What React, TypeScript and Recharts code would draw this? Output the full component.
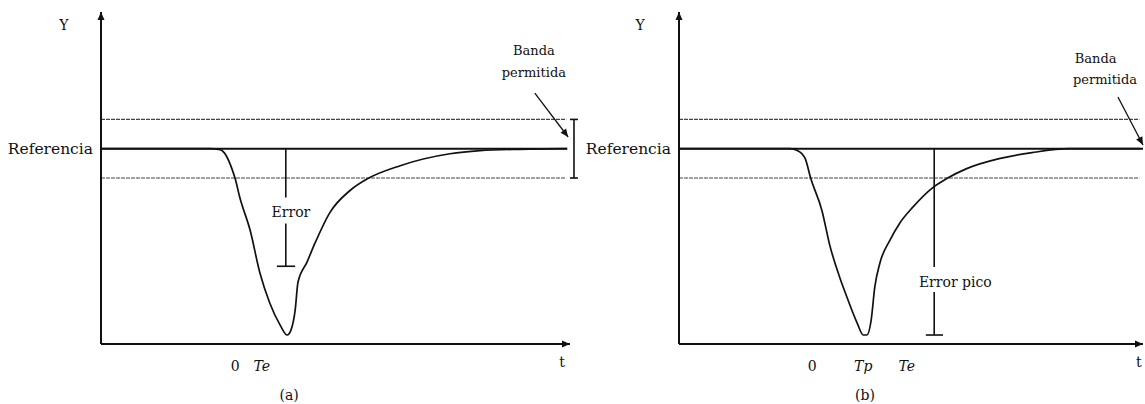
import { ComposedChart, Line, XAxis, YAxis, ReferenceLine, ReferenceDot } from "recharts";

// response after a step disturbance, reference level = 100
const leftT = [0, 23.2, 25.4, 26.7, 27.9, 28.6, 29.6, 31.8, 33.9, 36.0, 38.2, 39.7, 40.5, 41.4, 42.0, 43.9, 45.6, 48.8, 53.1, 56.9, 63.8, 74.4, 80.8, 89.3, 99.4];
const leftY = [100, 100, 99.5, 96.4, 89.8, 84.7, 75, 58.2, 36.2, 20.9, 9.7, 4.6, 7.1, 17.3, 31.6, 41.8, 51.5, 67.3, 78.6, 84.7, 91.3, 97.4, 99.0, 99.7, 100];

const rightT = [0, 23.9, 25.6, 27.2, 28.4, 30.8, 32.5, 34.7, 35.8, 38.4, 39.7, 40.5, 41.4, 42.2, 43.3, 45.5, 47.6, 50.4, 54.7, 57.7, 62.0, 69.0, 76.1, 84.1, 99.4];
const rightY = [100, 100, 99, 94.9, 84.7, 68.4, 50.5, 33.7, 26.5, 10.7, 4.6, 4.6, 12.0, 29.2, 41.5, 53.3, 62.0, 70.1, 80.1, 84.7, 89.8, 94.9, 98.0, 100, 100];

const referenceLevel = 100;
const bandHigh = 115;
const bandLow = 85;

const leftTicks = [28.6, 34.3, 98.3];
const leftTickLabels = ["0", "Te", "t"];
const rightTicks = [28.7, 39.7, 49.1, 99.1];
const rightTickLabels = ["0", "Tp", "Te", "t"];
const italicLabels = ["Te", "Tp"];

const FONT = "'DejaVu Serif', 'Liberation Serif', serif";
const INK = "#111";

function Txt({ cx, cy, text, anchor = "middle", size = 14, italic = false }: any) {
  return (
    <text x={cx} y={cy} textAnchor={anchor} dominantBaseline="central" fontFamily={FONT}
      fontSize={size} fontStyle={italic ? "italic" : "normal"} fill={INK}>
      {text}
    </text>
  );
}

// small filled triangle pointing along `angle` (degrees, 0 = right)
function Arrow({ cx, cy, angle }: any) {
  return (
    <polygon points="0,0 -8,-3.5 -8,3.5" fill={INK}
      transform={`translate(${cx},${cy}) rotate(${angle})`} />
  );
}

function label(x: number, y: number, text: string, opts: any = {}) {
  return (
    <ReferenceDot key={`${text}-${x}-${y}`} x={x} y={y} ifOverflow="visible"
      shape={(p: any) => <Txt cx={p.cx} cy={p.cy} text={text} {...opts} />} />
  );
}

function arrowHead(x: number, y: number, angle: number) {
  return (
    <ReferenceDot key={`arrow-${x}-${y}`} x={x} y={y} ifOverflow="visible"
      shape={(p: any) => <Arrow cx={p.cx} cy={p.cy} angle={angle} />} />
  );
}

function seg(x1: number, y1: number, x2: number, y2: number, style: any = {}) {
  return (
    <ReferenceLine key={`seg-${x1}-${y1}-${x2}-${y2}`} ifOverflow="visible"
      segment={[{ x: x1, y: y1 }, { x: x2, y: y2 }]}
      stroke={INK} strokeWidth={1.6} {...style} />
  );
}

const band = { stroke: "#444", strokeWidth: 1.2, strokeDasharray: "4 1" };

function tickRenderer(labels: string[]) {
  return (p: any) => {
    const text = labels[p.index];
    const dy = text === "t" ? 10 : 14;
    return <Txt cx={p.x} cy={p.y + dy} text={text} italic={italicLabels.includes(text)} />;
  };
}

function Panel({ t, y, ticks, tickLabels, width, yAxisWidth, rightMargin, extras }: any) {
  const data = t.map((v: number, i: number) => ({ t: v, y: y[i] }));
  return (
    <ComposedChart width={width} height={404} data={data}
      margin={{ top: 12, right: rightMargin, bottom: 0, left: 0 }}>
      <XAxis dataKey="t" type="number" domain={[0, 100]} allowDataOverflow ticks={ticks}
        height={60} tickLine={false} axisLine={{ stroke: INK, strokeWidth: 2 }}
        tick={tickRenderer(tickLabels)} interval={0} />
      <YAxis type="number" domain={[0, 170]} allowDataOverflow ticks={[referenceLevel]} width={yAxisWidth}
        tickLine={false} axisLine={{ stroke: INK, strokeWidth: 2 }}
        tick={{ fontFamily: FONT, fontSize: 15.5, fill: INK }}
        tickFormatter={() => "Referencia"} />
      {seg(0, bandHigh, 99.2, bandHigh, band)}
      {seg(0, bandLow, 99.2, bandLow, band)}
      {arrowHead(0, 170, -90)}
      {arrowHead(100, 0, 0)}
      <Line dataKey="y" type="monotone" stroke={INK} strokeWidth={1.7} dot={false}
        isAnimationActive={false} />
      {extras}
    </ComposedChart>
  );
}

export default function App() {
  const leftExtras = [
    seg(0, referenceLevel, 99.4, referenceLevel, { strokeWidth: 1.9 }),
    // error marker
    seg(39.4, referenceLevel, 39.4, 75),
    seg(39.4, 61.7, 39.4, 39.8),
    seg(37.5, 39.8, 41.4, 39.8),
    label(40.5, 67.6, "Error"),
    // allowed band bracket
    seg(100.85, bandHigh, 100.85, bandLow),
    seg(100, bandHigh, 101.7, bandHigh),
    seg(100, bandLow, 101.7, bandLow),
    seg(92.5, 128.5, 99.6, 106, { strokeWidth: 1.3 }),
    arrowHead(99.6, 106, 53),
    label(92.3, 150.5, "Banda", { size: 13 }),
    label(92.3, 139, "permitida", { size: 13 }),
    label(-7.9, 163.3, "Y"),
    label(40.1, -26.1, "(a)"),
  ];
  const rightExtras = [
    seg(0, referenceLevel, 100, referenceLevel, { strokeWidth: 1.9 }),
    // peak error marker
    seg(55.0, referenceLevel, 55.0, 39.4),
    seg(55.0, 26.6, 55.0, 4.6),
    seg(53.2, 4.6, 56.9, 4.6),
    label(51.7, 31.7, "Error pico", { anchor: "start" }),
    seg(94.6, 126.5, 100, 101.9, { strokeWidth: 1.3 }),
    arrowHead(100, 101.9, 62),
    label(85.3, 146.4, "Banda", { anchor: "start", size: 13 }),
    label(84.9, 135.2, "permitida", { anchor: "start", size: 13 }),
    label(-8.4, 163.3, "Y"),
    label(40.1, -26.1, "(b)"),
  ];

  return (
    <div style={{ position: "absolute", left: 0, top: 0, width: 1145, height: 404, background: "#fff" }}>
      <div style={{ position: "absolute", left: 0, top: 0 }}>
        <Panel t={leftT} y={leftY} ticks={leftTicks} tickLabels={leftTickLabels}
          width={580} yAxisWidth={101} rightMargin={10} extras={leftExtras} />
      </div>
      <div style={{ position: "absolute", left: 580, top: 0 }}>
        <Panel t={rightT} y={rightY} ticks={rightTicks} tickLabels={rightTickLabels}
          width={565} yAxisWidth={99} rightMargin={2} extras={rightExtras} />
      </div>
    </div>
  );
}
